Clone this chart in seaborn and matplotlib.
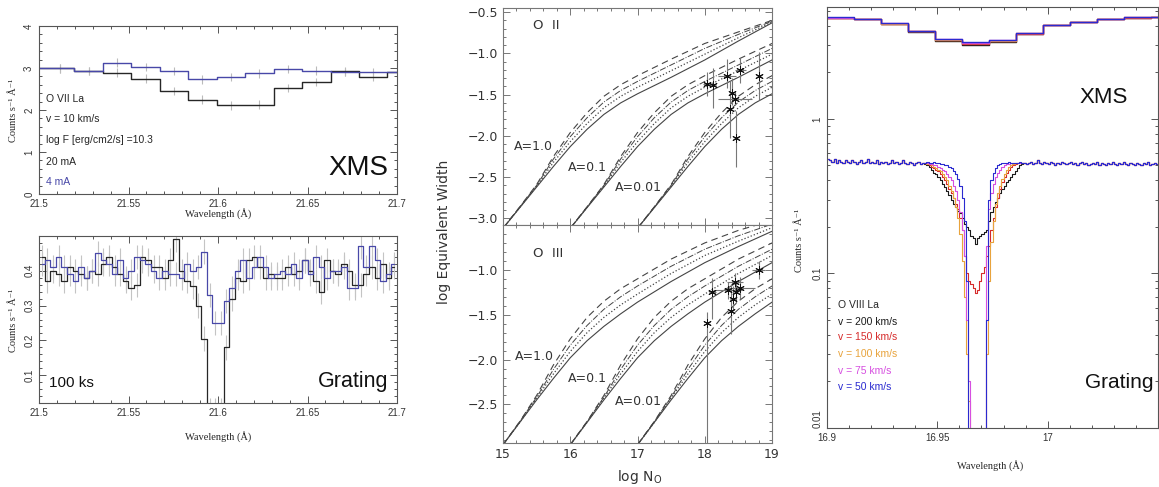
import numpy as np
import matplotlib
matplotlib.use("Agg")
import matplotlib.pyplot as plt
import seaborn as sns
import pandas as pd
from matplotlib.ticker import MultipleLocator, LogLocator, NullFormatter

# ---------------- data: left, XMS (O VII) ----------------
xms_wave = np.arange(14) * 0.0159 + 21.4959
xms_20ma = [3.00, 2.99, 2.93, 2.89, 2.75, 2.45, 2.25, 2.11, 2.13, 2.53, 2.66, 2.92, 2.79, 2.90]
xms_4ma = [3.00, 2.99, 2.93, 3.13, 3.03, 2.93, 2.73, 2.79, 2.87, 2.98, 2.94, 2.91, 2.90, 2.90]
xms_err = 0.1

# ---------------- data: left, grating (O VII) ----------------
grt_wave = np.arange(64) * 0.003125 + 21.5015625
grt_20ma = [0.44, 0.37, 0.40, 0.39, 0.37, 0.41, 0.40, 0.39, 0.38, 0.40,
            0.39, 0.42, 0.44, 0.41, 0.39, 0.37, 0.35, 0.36, 0.44, 0.43,
            0.41, 0.41, 0.38, 0.43, 0.49, 0.40, 0.37, 0.355, 0.30, 0.205,
            0.0, 0.0, 0.0, 0.18, 0.32, 0.38, 0.37, 0.43, 0.44, 0.41,
            0.38, 0.39, 0.38, 0.38, 0.41, 0.39, 0.40, 0.43, 0.40, 0.37,
            0.34, 0.43, 0.40, 0.39, 0.42, 0.40, 0.36, 0.36, 0.39, 0.41,
            0.38, 0.42, 0.38, 0.41]
grt_4ma = [0.42, 0.43, 0.41, 0.44, 0.41, 0.39, 0.37, 0.41, 0.38, 0.40,
           0.45, 0.43, 0.42, 0.39, 0.43, 0.38, 0.40, 0.44, 0.43, 0.42,
           0.40, 0.38, 0.40, 0.39, 0.39, 0.38, 0.42, 0.40, 0.41, 0.455,
           0.33, 0.25, 0.25, 0.313, 0.35, 0.40, 0.43, 0.38, 0.41, 0.44,
           0.41, 0.38, 0.39, 0.40, 0.39, 0.42, 0.38, 0.43, 0.39, 0.44,
           0.41, 0.38, 0.40, 0.40, 0.41, 0.35, 0.35, 0.47, 0.41, 0.47,
           0.43, 0.37, 0.39, 0.42]
grt_err = 0.035

# ---------------- data: middle, curves of growth ----------------
cog_logn = [15.0, 15.25, 15.5, 15.75, 16.0, 16.25, 16.5, 16.75, 17.0, 17.5, 18.0, 18.5, 19.0]
abundances = [1.0, 0.1, 0.01]
oii_solid = [-3.12, -2.87, -2.62, -2.37, -2.13, -1.92, -1.74, -1.60, -1.49, -1.29, -1.08, -0.85, -0.63]
oii_dotted = [-3.12, -2.865, -2.61, -2.32, -2.07, -1.85, -1.66, -1.52, -1.41, -1.21, -1.01, -0.81, -0.62]
oii_dashdot = [-3.12, -2.86, -2.60, -2.28, -2.01, -1.78, -1.59, -1.45, -1.34, -1.14, -0.94, -0.77, -0.61]
oii_dashed = [-3.12, -2.86, -2.59, -2.25, -1.96, -1.72, -1.52, -1.38, -1.27, -1.07, -0.88, -0.74, -0.60]
oiii_solid = [-2.95, -2.70, -2.45, -2.21, -1.98, -1.79, -1.63, -1.49, -1.36, -1.13, -0.92, -0.74, -0.57]
oiii_dotted = [-2.95, -2.70, -2.43, -2.16, -1.91, -1.70, -1.53, -1.39, -1.27, -1.04, -0.84, -0.68, -0.53]
oiii_dashdot = [-2.95, -2.69, -2.42, -2.11, -1.84, -1.62, -1.44, -1.30, -1.18, -0.96, -0.77, -0.62, -0.49]
oiii_dashed = [-2.95, -2.69, -2.40, -2.06, -1.77, -1.53, -1.35, -1.21, -1.10, -0.88, -0.70, -0.56, -0.45]

oii_n = [18.03, 18.12, 18.33, 18.53, 18.40, 18.45, 18.37, 18.47, 18.80]
oii_w = [-1.37, -1.38, -1.27, -1.20, -1.48, -1.55, -1.68, -2.02, -1.27]
oii_nerr = [0.05, 0.04, 0.14, 0.08, 0.03, 0.25, 0.03, 0.03, 0.03]
oii_werr_lo = [0.15, 0.28, 0.15, 0.16, 0.15, 0.08, 0.35, 0.36, 0.29]
oii_werr_hi = [0.15, 0.20, 0.20, 0.14, 0.18, 0.08, 0.35, 0.32, 0.29]

oiii_n = [18.04, 18.11, 18.34, 18.39, 18.42, 18.45, 18.47, 18.52, 18.80]
oiii_w = [-1.59, -1.25, -1.23, -1.46, -1.33, -1.14, -1.25, -1.20, -1.00]
oiii_nerr = [0.02, 0.05, 0.22, 0.03, 0.05, 0.12, 0.03, 0.22, 0.10]
oiii_werr_lo = [1.5, 0.30, 0.10, 0.25, 0.12, 0.10, 0.12, 0.12, 0.10]
oiii_werr_hi = [0.12, 0.16, 0.10, 0.30, 0.15, 0.10, 0.12, 0.12, 0.10]

# ---------------- data: right, O VIII ----------------
velocities = ["200", "150", "100", "75", "50"]
vel_colors = ["#1a1a1a", "#d62a2a", "#e8a33c", "#d64fe0", "#2a2ad0"]

o8_xms_wave = np.arange(14) * 0.01225 + 16.8939
o8_xms = {
    "200": [4.55, 4.53, 4.40, 4.10, 3.66, 3.20, 3.02, 3.16, 3.55, 4.04, 4.24, 4.42, 4.53, 4.55],
    "150": [4.55, 4.53, 4.40, 4.12, 3.68, 3.24, 3.06, 3.19, 3.57, 4.05, 4.25, 4.42, 4.53, 4.55],
    "100": [4.55, 4.53, 4.40, 4.14, 3.70, 3.26, 3.09, 3.21, 3.58, 4.06, 4.26, 4.43, 4.54, 4.55],
    "75": [4.55, 4.53, 4.41, 4.15, 3.72, 3.27, 3.11, 3.23, 3.59, 4.07, 4.26, 4.43, 4.54, 4.55],
    "50": [4.56, 4.54, 4.41, 4.16, 3.73, 3.29, 3.13, 3.25, 3.60, 4.08, 4.27, 4.43, 4.54, 4.56],
}

o8_grt_wave = np.arange(150) * 0.001 + 16.9005
o8_continuum = [
    0.55, 0.54, 0.53, 0.55, 0.52, 0.54, 0.53, 0.52, 0.54, 0.53,
    0.52, 0.54, 0.53, 0.51, 0.53, 0.54, 0.52, 0.53, 0.55, 0.52,
    0.53, 0.52, 0.54, 0.51, 0.53, 0.52, 0.53, 0.51, 0.52, 0.54,
    0.52, 0.53, 0.51, 0.52, 0.54, 0.52, 0.51, 0.53, 0.52, 0.50,
    0.52, 0.53, 0.51, 0.52, 0.52, 0.52, 0.52, 0.52, 0.52, 0.52,
    0.52, 0.52, 0.52, 0.52, 0.52, 0.52, 0.52, 0.52, 0.52, 0.52,
    0.52, 0.52, 0.52, 0.52, 0.52, 0.52, 0.52, 0.52, 0.52, 0.52,
    0.52, 0.52, 0.52, 0.52, 0.52, 0.52, 0.52, 0.52, 0.52, 0.52,
    0.52, 0.52, 0.52, 0.52, 0.52, 0.52, 0.52, 0.52, 0.52, 0.52,
    0.51, 0.52, 0.53, 0.51, 0.52, 0.54, 0.52, 0.51, 0.53, 0.52,
    0.51, 0.53, 0.52, 0.50, 0.52, 0.51, 0.53, 0.52, 0.51, 0.52,
    0.53, 0.51, 0.52, 0.50, 0.52, 0.53, 0.51, 0.52, 0.50, 0.51,
    0.52, 0.51, 0.53, 0.50, 0.52, 0.51, 0.50, 0.52, 0.51, 0.53,
    0.51, 0.50, 0.52, 0.51, 0.53, 0.51, 0.50, 0.52, 0.51, 0.50,
    0.52, 0.51, 0.50, 0.52, 0.51, 0.53, 0.50, 0.51, 0.52, 0.51,
]
core_start = 44  # first grating bin of the absorption core (16.9445)
o8_core = {
    "200": [0.51, 0.50, 0.49, 0.47, 0.45, 0.44, 0.42, 0.40, 0.38, 0.36,
            0.34, 0.32, 0.30, 0.28, 0.27, 0.255, 0.245, 0.23, 0.21, 0.20,
            0.19, 0.175, 0.17, 0.155, 0.17, 0.175, 0.18, 0.185, 0.19, 0.22,
            0.25, 0.27, 0.29, 0.31, 0.33, 0.35, 0.37, 0.39, 0.40, 0.42,
            0.44, 0.46, 0.48, 0.50, 0.51, 0.52],
    "150": [0.52, 0.51, 0.50, 0.49, 0.48, 0.47, 0.46, 0.44, 0.42, 0.40,
            0.38, 0.35, 0.33, 0.31, 0.28, 0.26, 0.23, 0.19, 0.13, 0.10,
            0.09, 0.085, 0.08, 0.075, 0.078, 0.09, 0.10, 0.11, 0.13, 0.15,
            0.19, 0.23, 0.27, 0.31, 0.35, 0.39, 0.42, 0.45, 0.47, 0.49,
            0.50, 0.51, 0.52, 0.52, 0.52, 0.52],
    "100": [0.52, 0.51, 0.51, 0.50, 0.49, 0.48, 0.47, 0.46, 0.44, 0.42,
            0.40, 0.37, 0.34, 0.31, 0.27, 0.23, 0.18, 0.12, 0.07, 0.03,
            0.015, 0.008, 0.005, 0.005, 0.005, 0.005, 0.005, 0.006, 0.03, 0.09,
            0.16, 0.22, 0.28, 0.33, 0.37, 0.41, 0.44, 0.47, 0.49, 0.50,
            0.51, 0.52, 0.52, 0.52, 0.52, 0.52],
    "75": [0.52, 0.52, 0.51, 0.51, 0.50, 0.50, 0.49, 0.48, 0.47, 0.46,
           0.44, 0.42, 0.40, 0.37, 0.34, 0.30, 0.25, 0.19, 0.13, 0.05,
           0.02, 0.005, 0.005, 0.005, 0.005, 0.005, 0.005, 0.006, 0.15, 0.26,
           0.33, 0.38, 0.42, 0.45, 0.47, 0.49, 0.50, 0.51, 0.51, 0.52,
           0.52, 0.52, 0.52, 0.52, 0.52, 0.52],
    "50": [0.52, 0.53, 0.52, 0.52, 0.53, 0.52, 0.52, 0.51, 0.51, 0.50,
           0.50, 0.49, 0.48, 0.46, 0.44, 0.41, 0.37, 0.31, 0.22, 0.09,
           0.005, 0.005, 0.005, 0.005, 0.005, 0.005, 0.005, 0.005, 0.05, 0.30,
           0.40, 0.45, 0.48, 0.50, 0.51, 0.52, 0.52, 0.52, 0.53, 0.52,
           0.52, 0.52, 0.52, 0.53, 0.52, 0.52],
}

# ---------------- styling ----------------
sns.set_theme(style="ticks")
plt.rcParams['font.family'] = ['Liberation Sans', 'DejaVu Sans']
SERIF = ['Liberation Serif', 'DejaVu Serif']
W, H = 1159, 487
fig = plt.figure(figsize=(W / 100, H / 100), dpi=100)
fig.patch.set_facecolor('white')

BLACK = '#262626'
NAVY = '#4848a8'
GREY = '#555555'


def box(l, t, r, b):
    return [l / W, 1 - b / H, (r - l) / W, (b - t) / H]


def idl_axes(ax, spine=GREY, labelsize=7):
    for s in ax.spines.values():
        s.set_color(spine)
        s.set_linewidth(0.8)
    ax.set_facecolor('white')
    ax.tick_params(which='both', direction='in', top=True, right=True,
                   color=spine, width=0.7, labelsize=labelsize, labelcolor='#333333')
    ax.tick_params(which='major', length=5)
    ax.tick_params(which='minor', length=2.5)
    ax.set_xlabel('')
    ax.set_ylabel('')


def rotate_yticks(ax):
    for lbl in ax.get_yticklabels():
        lbl.set_rotation(90)
        lbl.set_va('center')


# ---------- top-left: XMS ----------
ax1 = fig.add_axes(box(39, 26, 397, 194))
ax1.errorbar(xms_wave, xms_20ma, yerr=xms_err, fmt='none', ecolor='#bbbbbb', elinewidth=0.8, zorder=1)
ax1.errorbar(xms_wave, xms_4ma, yerr=xms_err, fmt='none', ecolor='#bbbbbb', elinewidth=0.8, zorder=1)
sns.lineplot(x=xms_wave, y=xms_20ma, drawstyle='steps-mid', color=BLACK, lw=1.0, ax=ax1)
sns.lineplot(x=xms_wave, y=xms_4ma, drawstyle='steps-mid', color=NAVY, lw=1.0, ax=ax1)
ax1.set_xlim(21.5, 21.7)
ax1.set_ylim(0, 4)
ax1.set_xticks([21.5, 21.55, 21.6, 21.65, 21.7])
ax1.set_xticklabels(['21.5', '21.55', '21.6', '21.65', '21.7'])
ax1.xaxis.set_minor_locator(MultipleLocator(0.01))
ax1.set_yticks([0, 1, 2, 3, 4])
ax1.yaxis.set_minor_locator(MultipleLocator(0.2))
idl_axes(ax1)
rotate_yticks(ax1)
for txt, yy, col in [('O VII La', 0.564, BLACK), ('v = 10 km/s', 0.446, BLACK),
                     ('log F [erg/cm2/s] =10.3', 0.321, BLACK), ('20 mA', 0.192, BLACK),
                     ('4 mA', 0.07, NAVY)]:
    ax1.text(0.019, yy, txt, transform=ax1.transAxes, fontsize=7.5, color=col, va='center')
ax1.text(0.975, 0.155, 'XMS', transform=ax1.transAxes, fontsize=20, ha='right', va='center', color='#111111')
fig.text(218 / W, 1 - 214 / H, 'Wavelength (Å)', family=SERIF, fontsize=7.5, ha='center', va='center')
fig.text(14 / W, 1 - 110 / H, 'Counts s⁻¹ Å⁻¹', family=SERIF, fontsize=7.5, rotation=90,
         ha='center', va='center')

# ---------- bottom-left: grating ----------
ax2 = fig.add_axes(box(39, 236, 397, 403))
ax2.errorbar(grt_wave, grt_20ma, yerr=grt_err, fmt='none', ecolor='#c4c4c4', elinewidth=0.8, zorder=1)
ax2.errorbar(grt_wave, grt_4ma, yerr=grt_err, fmt='none', ecolor='#c4c4c4', elinewidth=0.8, zorder=1)
sns.lineplot(x=grt_wave, y=grt_20ma, drawstyle='steps-mid', color=BLACK, lw=0.9, ax=ax2)
sns.lineplot(x=grt_wave, y=grt_4ma, drawstyle='steps-mid', color=NAVY, lw=0.9, ax=ax2)
ax2.set_xlim(21.5, 21.7)
ax2.set_ylim(0.02, 0.5)
ax2.set_xticks([21.5, 21.55, 21.6, 21.65, 21.7])
ax2.set_xticklabels(['21.5', '21.55', '21.6', '21.65', '21.7'])
ax2.xaxis.set_minor_locator(MultipleLocator(0.01))
ax2.set_yticks([0.1, 0.2, 0.3, 0.4])
ax2.set_yticklabels(['0.1', '0.2', '0.3', '0.4'])
ax2.yaxis.set_minor_locator(MultipleLocator(0.02))
idl_axes(ax2)
rotate_yticks(ax2)
ax2.text(0.028, 0.12, '100 ks', transform=ax2.transAxes, fontsize=11, va='center', color='#111111')
ax2.text(0.975, 0.13, 'Grating', transform=ax2.transAxes, fontsize=15.5, ha='right', va='center', color='#111111')
fig.text(218 / W, 1 - 437 / H, 'Wavelength (Å)', family=SERIF, fontsize=7.5, ha='center', va='center')
fig.text(14 / W, 1 - 320 / H, 'Counts s⁻¹ Å⁻¹', family=SERIF, fontsize=7.5, rotation=90,
         ha='center', va='center')

# ---------- middle: curves of growth ----------
MID = '#444444'
styles = [('-', 0.8), (':', 0.9), ('-.', 0.7), ((0, (6, 4)), 0.8)]


def cog_panel(ax, curves, n, w, nerr, wlo, whi, ion, labels_pos):
    for ab in abundances:
        shift = -np.log10(ab)
        xs = np.array(cog_logn) + shift
        for ys, (ls, lw) in zip(curves, styles):
            sns.lineplot(x=xs, y=ys, color=MID, lw=lw, linestyle=ls, ax=ax)
    ax.errorbar(n, w, xerr=nerr, yerr=[wlo, whi], fmt='none', ecolor='#777777', elinewidth=0.8, zorder=3)
    sns.scatterplot(x=n, y=w, marker=(6, 2, 0), s=30, color='#111111', linewidth=0.7, ax=ax, zorder=4)
    ax.text(0.11, labels_pos, ion, transform=ax.transAxes, fontsize=9.5, color='#333333', va='center',
            family='DejaVu Sans')
    ax.set_xlim(15, 19)
    ax.xaxis.set_major_locator(MultipleLocator(1))
    ax.xaxis.set_minor_locator(MultipleLocator(0.2))
    ax.yaxis.set_minor_locator(MultipleLocator(0.1))
    idl_axes(ax, spine='#777777', labelsize=9)
    for lbl in ax.get_xticklabels() + ax.get_yticklabels():
        lbl.set_family('DejaVu Sans')


ax3 = fig.add_axes(box(503, 8, 772, 225))
cog_panel(ax3, [oii_solid, oii_dotted, oii_dashdot, oii_dashed], oii_n, oii_w, oii_nerr,
          oii_werr_lo, oii_werr_hi, 'O  II', 0.92)
ax3.set_ylim(-3.08, -0.45)
ax3.set_yticks([-3.0, -2.5, -2.0, -1.5, -1.0, -0.5])
ax3.tick_params(axis='x', labelbottom=False)
for txt, xx, yy in [('A=1.0', 15.16, -2.13), ('A=0.1', 15.97, -2.38), ('A=0.01', 16.67, -2.63)]:
    ax3.text(xx, yy, txt, fontsize=9, color='#333333', va='center', family='DejaVu Sans')

ax4 = fig.add_axes(box(503, 225, 772, 443))
cog_panel(ax4, [oiii_solid, oiii_dotted, oiii_dashdot, oiii_dashed], oiii_n, oiii_w, oiii_nerr,
          oiii_werr_lo, oiii_werr_hi, 'O  III', 0.87)
ax4.set_ylim(-2.93, -0.5)
ax4.set_yticks([-2.5, -2.0, -1.5, -1.0])
for txt, xx, yy in [('A=1.0', 15.18, -1.97), ('A=0.1', 15.97, -2.21), ('A=0.01', 16.67, -2.47)]:
    ax4.text(xx, yy, txt, fontsize=9, color='#333333', va='center', family='DejaVu Sans')
fig.text(444 / W, 1 - 232 / H, 'log Equivalent Width', fontsize=10, rotation=90, ha='center',
         va='center', color='#333333', family='DejaVu Sans')
fig.text(640 / W, 1 - 477 / H, r'log N$_{\rm O}$', fontsize=10, ha='center', va='center',
         color='#333333', family='DejaVu Sans')

# ---------- right: O VIII ----------
ax5 = fig.add_axes(box(827, 7, 1158, 428))
for v, col in zip(velocities, vel_colors):
    sns.lineplot(x=o8_xms_wave, y=o8_xms[v], drawstyle='steps-mid', color=col, lw=1.0, ax=ax5)
for v, col in zip(velocities, vel_colors):
    spec = list(o8_continuum)
    spec[core_start:core_start + len(o8_core[v])] = o8_core[v]
    sns.lineplot(x=o8_grt_wave, y=spec, drawstyle='steps-mid', color=col, lw=0.8, ax=ax5)
ax5.set_yscale('log')
ax5.set_xlim(16.9, 17.05)
ax5.set_ylim(0.01, 5.3)
ax5.set_xticks([16.9, 16.95, 17.0])
ax5.set_xticklabels(['16.9', '16.95', '17'])
ax5.xaxis.set_minor_locator(MultipleLocator(0.01))
ax5.set_yticks([0.01, 0.1, 1])
ax5.set_yticklabels(['0.01', '0.1', '1'])
ax5.yaxis.set_minor_locator(LogLocator(base=10, subs=np.arange(2, 10)))
ax5.yaxis.set_minor_formatter(NullFormatter())
idl_axes(ax5)
rotate_yticks(ax5)
ax5.get_yticklabels()[0].set_va('bottom')
legend_lines = [('O VIII La', BLACK, 0.292)] + [
    (f'v = {v} km/s', col, yy) for v, col, yy in zip(velocities, vel_colors, [0.2525, 0.215, 0.176, 0.135, 0.098])]
for txt, col, yy in legend_lines:
    ax5.text(0.033, yy, txt, transform=ax5.transAxes, fontsize=7.5, color=col, va='center')
ax5.text(0.91, 0.784, 'XMS', transform=ax5.transAxes, fontsize=16, ha='right', va='center', color='#111111')
ax5.text(0.985, 0.107, 'Grating', transform=ax5.transAxes, fontsize=15, ha='right', va='center', color='#111111')
fig.text(990 / W, 1 - 466 / H, 'Wavelength (Å)', family=SERIF, fontsize=7.5, ha='center', va='center')
fig.text(800 / W, 1 - 240 / H, 'Counts s⁻¹ Å⁻¹', family=SERIF, fontsize=7.5, rotation=90,
         ha='center', va='center')

fig.savefig('out.png', dpi=100)
